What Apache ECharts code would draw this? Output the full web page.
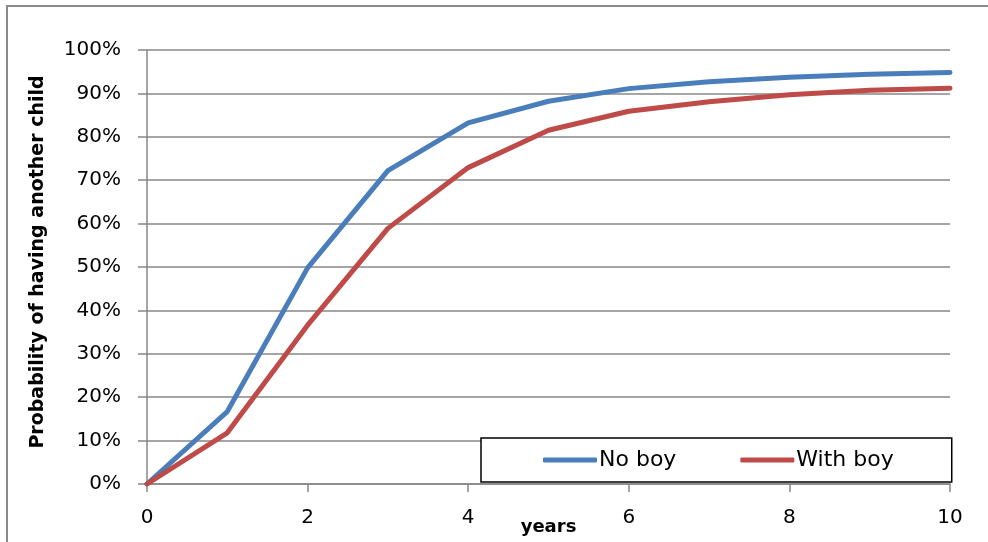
<!DOCTYPE html>
<html>
<head>
    <meta charset="utf-8">
    <title>ECharts</title>
    <script src="https://cdn.jsdelivr.net/npm/echarts@6/dist/echarts.min.js"></script>
    <style>
        body { margin: 0; background: #fff; }
        #frame { position: absolute; left: 6px; top: 5px; width: 1000px; height: 600px;
                 border-top: 2px solid #898989; border-left: 2px solid #898989; }
        #chart { position: absolute; left: 0; top: 0; width: 988px; height: 542px; }
    </style>
</head>
<body>
<div id="frame"></div>
<div id="chart"></div>

<script type="text/javascript">
    // values
    var years = [0, 1, 2, 3, 4, 5, 6, 7, 8, 9, 10];
    var noBoy = [0, 16.7, 49.8, 72.2, 83.2, 88.2, 91.1, 92.7, 93.7, 94.4, 94.8];
    var withBoy = [0, 11.8, 36.6, 58.9, 72.9, 81.5, 85.9, 88.1, 89.7, 90.7, 91.2];
    var xTicks = [0, 2, 4, 6, 8, 10];
    var yTicks = [0, 10, 20, 30, 40, 50, 60, 70, 80, 90, 100];

    function pairs(ys) {
        return years.map(function (x, i) { return [x, ys[i]]; });
    }

    var font = '"DejaVu Sans", sans-serif';
    var gridGray = '#878787';

    var myChart = echarts.init(document.getElementById('chart'));

    myChart.setOption({
        animation: false,
        textStyle: { fontFamily: font },
        grid: { left: 147, right: 38, top: 50, bottom: 58, outerBoundsMode: 'none', containLabel: false },
        legend: {
            left: 481, top: 438,
            padding: [11, 58, 11, 62],
            itemGap: 64,
            itemWidth: 54,
            itemHeight: 5,
            icon: 'roundRect',
            borderColor: '#000',
            borderWidth: 1.5,
            borderRadius: 0,
            backgroundColor: '#fff',
            textStyle: { fontSize: 22, color: '#000', fontFamily: font, padding: [2, 0, 0, -3] },
            data: ['No boy', 'With boy']
        },
        xAxis: {
            type: 'value',
            min: 0, max: 10, interval: 2,
            name: 'years',
            nameLocation: 'middle',
            nameGap: 34,
            nameMoveOverlap: false,
            nameTextStyle: { fontSize: 18, fontWeight: 'bold', color: '#000', fontFamily: font },
            axisLine: { show: true, lineStyle: { color: gridGray, width: 1.5 } },
            axisTick: { show: true, length: 8, lineStyle: { color: gridGray, width: 1.5 } },
            axisLabel: {
                fontSize: 20, color: '#000', margin: 24,
                formatter: function (v) { return xTicks.indexOf(v) >= 0 ? String(v) : ''; }
            },
            splitLine: { show: false }
        },
        yAxis: {
            type: 'value',
            min: 0, max: 100, interval: 10,
            name: 'Probability of having another child',
            nameLocation: 'middle',
            nameGap: 99,
            nameMoveOverlap: false,
            nameRotate: 90,
            nameTextStyle: { fontSize: 19, fontWeight: 'bold', color: '#000', fontFamily: font, padding: [0, 0, 0, 10] },
            axisLine: { show: true, lineStyle: { color: gridGray, width: 1.5 } },
            axisTick: { show: true, length: 9, lineStyle: { color: gridGray, width: 1.5 } },
            axisLabel: {
                fontSize: 20, color: '#000', margin: 26,
                formatter: function (v) { return yTicks.indexOf(v) >= 0 ? v + '%' : ''; }
            },
            splitLine: { show: true, lineStyle: { color: gridGray, width: 1.5 } }
        },
        series: [
            {
                name: 'No boy', type: 'line', symbol: 'none',
                data: pairs(noBoy),
                color: '#4a7ebb',
                lineStyle: { color: '#4a7ebb', width: 5, cap: 'round', join: 'round' }
            },
            {
                name: 'With boy', type: 'line', symbol: 'none',
                data: pairs(withBoy),
                color: '#be4b48',
                lineStyle: { color: '#be4b48', width: 5, cap: 'round', join: 'round' }
            }
        ]
    });
</script>
</body>
</html>
